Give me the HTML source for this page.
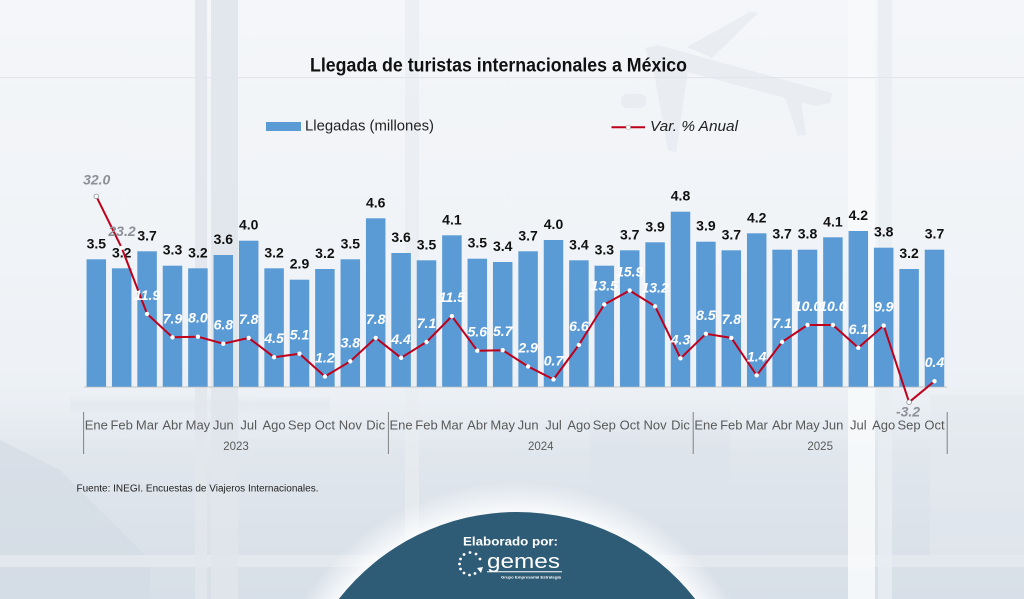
<!DOCTYPE html>
<html>
<head>
<meta charset="utf-8">
<style>
html,body{margin:0;padding:0;background:#f2f5f8;width:1024px;height:599px;overflow:hidden;}
svg{display:block;}
text{font-family:"Liberation Sans",Arial,sans-serif;}
</style>
</head>
<body>
<svg width="1024" height="599" viewBox="0 0 1024 599" xmlns="http://www.w3.org/2000/svg">
<defs>
<linearGradient id="bg" x1="0" y1="0" x2="0" y2="1">
<stop offset="0" stop-color="#f4f6f9"/>
<stop offset="0.6" stop-color="#eef2f6"/>
<stop offset="1" stop-color="#e1e7ee"/>
</linearGradient>
<linearGradient id="low" x1="0" y1="0" x2="0" y2="1">
<stop offset="0" stop-color="#dfe5ec" stop-opacity="0"/>
<stop offset="0.3" stop-color="#dce3ea" stop-opacity="0.7"/>
<stop offset="1" stop-color="#d6dee7" stop-opacity="0.9"/>
</linearGradient>
<linearGradient id="soft" x1="0" y1="0" x2="0" y2="1">
<stop offset="0" stop-color="#d8dfe7" stop-opacity="0"/>
<stop offset="0.5" stop-color="#d8dfe7" stop-opacity="0.6"/>
<stop offset="1" stop-color="#d8dfe7" stop-opacity="0"/>
</linearGradient>
<radialGradient id="halo" gradientUnits="userSpaceOnUse" cx="517" cy="738" r="256">
<stop offset="0.85" stop-color="#ffffff" stop-opacity="0.95"/>
<stop offset="0.9" stop-color="#ffffff" stop-opacity="0.7"/>
<stop offset="1" stop-color="#ffffff" stop-opacity="0"/>
</radialGradient>
</defs>
<!-- background -->
<rect x="0" y="0" width="1024" height="599" fill="url(#bg)"/>
<rect x="0" y="395" width="1024" height="204" fill="url(#low)"/>
<g opacity="0.6">
<polygon points="0,440 60,470 150,560 150,599 0,599" fill="#d3dbe4"/>
<rect x="0" y="555" width="1024" height="12" fill="#e9edf2"/>
<rect x="590" y="400" width="140" height="95" fill="url(#soft)"/>
<rect x="930" y="395" width="94" height="160" fill="#e4e9ef"/>
<rect x="70" y="395" width="260" height="20" fill="url(#soft)"/>
</g>
<rect x="195" y="0" width="12" height="599" fill="#e2e7ec" opacity="0.9"/>
<rect x="211" y="0" width="27" height="599" fill="#e0e5eb" opacity="0.9"/>
<rect x="405" y="0" width="14" height="599" fill="#e8ecf1" opacity="0.7"/>
<rect x="848" y="0" width="27" height="599" fill="#f7f9fb" opacity="0.9"/>
<rect x="878" y="0" width="14" height="599" fill="#e9edf2" opacity="0.8"/>
<rect x="0" y="77" width="1024" height="1.2" fill="#e3e7ec"/>

<!-- plane -->
<g fill="#e2e6ec" opacity="0.55">
<polygon points="645,48 658,45 832,93 830,103 815,106 650,62"/>
<polygon points="687,47 750,12 758,13 712,58"/>
<polygon points="652,62 688,70 676,152 668,150"/>
<polygon points="782,88 800,92 806,135 798,136"/>
<rect x="621" y="94" width="25" height="14" rx="6"/>
</g>

<!-- axis line -->
<line x1="84" y1="387" x2="947" y2="387" stroke="#c4c4c4" stroke-width="1"/>

<!-- bars -->
<g fill="#5b9bd5">
<rect x="86.55" y="259.3" width="19.5" height="127.4"/>
<rect x="111.95" y="268.3" width="19.5" height="118.4"/>
<rect x="137.35" y="251.3" width="19.5" height="135.4"/>
<rect x="162.75" y="265.7" width="19.5" height="121"/>
<rect x="188.15" y="268.3" width="19.5" height="118.4"/>
<rect x="213.55" y="255" width="19.5" height="131.7"/>
<rect x="238.95" y="240.7" width="19.5" height="146"/>
<rect x="264.35" y="268.3" width="19.5" height="118.4"/>
<rect x="289.75" y="279.7" width="19.5" height="107"/>
<rect x="315.15" y="269" width="19.5" height="117.7"/>
<rect x="340.55" y="259.3" width="19.5" height="127.4"/>
<rect x="365.95" y="218.3" width="19.5" height="168.4"/>
<rect x="391.35" y="253" width="19.5" height="133.7"/>
<rect x="416.75" y="260.3" width="19.5" height="126.4"/>
<rect x="442.15" y="235.3" width="19.5" height="151.4"/>
<rect x="467.55" y="258.7" width="19.5" height="128"/>
<rect x="492.95" y="262" width="19.5" height="124.7"/>
<rect x="518.35" y="251.3" width="19.5" height="135.4"/>
<rect x="543.75" y="240" width="19.5" height="146.7"/>
<rect x="569.15" y="260.3" width="19.5" height="126.4"/>
<rect x="594.55" y="265.7" width="19.5" height="121"/>
<rect x="619.95" y="250.3" width="19.5" height="136.4"/>
<rect x="645.35" y="242.3" width="19.5" height="144.4"/>
<rect x="670.75" y="211.7" width="19.5" height="175"/>
<rect x="696.15" y="241.7" width="19.5" height="145"/>
<rect x="721.55" y="250.3" width="19.5" height="136.4"/>
<rect x="746.95" y="233.3" width="19.5" height="153.4"/>
<rect x="772.35" y="249.7" width="19.5" height="137"/>
<rect x="797.75" y="249.7" width="19.5" height="137"/>
<rect x="823.15" y="237.3" width="19.5" height="149.4"/>
<rect x="848.55" y="231" width="19.5" height="155.7"/>
<rect x="873.95" y="247.7" width="19.5" height="139"/>
<rect x="899.35" y="269" width="19.5" height="117.7"/>
<rect x="924.75" y="249.7" width="19.5" height="137"/>
</g>

<!-- bar labels -->
<g font-size="14" font-weight="bold" fill="#111" text-anchor="middle">
<text x="96.3" y="248.3">3.5</text>
<text x="121.7" y="257.3">3.2</text>
<text x="147.1" y="240.3">3.7</text>
<text x="172.5" y="254.7">3.3</text>
<text x="197.9" y="257.3">3.2</text>
<text x="223.3" y="244">3.6</text>
<text x="248.7" y="229.7">4.0</text>
<text x="274.1" y="257.3">3.2</text>
<text x="299.5" y="268.7">2.9</text>
<text x="324.9" y="258">3.2</text>
<text x="350.3" y="248.3">3.5</text>
<text x="375.7" y="207.3">4.6</text>
<text x="401.1" y="242">3.6</text>
<text x="426.5" y="249.3">3.5</text>
<text x="451.9" y="224.3">4.1</text>
<text x="477.3" y="247.7">3.5</text>
<text x="502.7" y="251">3.4</text>
<text x="528.1" y="240.3">3.7</text>
<text x="553.5" y="229">4.0</text>
<text x="578.9" y="249.3">3.4</text>
<text x="604.3" y="254.7">3.3</text>
<text x="629.7" y="239.3">3.7</text>
<text x="655.1" y="231.3">3.9</text>
<text x="680.5" y="200.7">4.8</text>
<text x="705.9" y="230.7">3.9</text>
<text x="731.3" y="239.3">3.7</text>
<text x="756.7" y="222.3">4.2</text>
<text x="782.1" y="238.7">3.7</text>
<text x="807.5" y="238.7">3.8</text>
<text x="832.9" y="226.3">4.1</text>
<text x="858.3" y="220">4.2</text>
<text x="883.7" y="236.7">3.8</text>
<text x="909.1" y="258">3.2</text>
<text x="934.5" y="238.7">3.7</text>
</g>

<!-- line -->
<polyline fill="none" stroke="#c0001a" stroke-width="2" stroke-linejoin="round"
points="96.3,196.3 121.7,247.8 147.1,313.9 172.5,337.3 197.9,336.7 223.3,343.7 248.7,337.9 274.1,357.2 299.5,353.7 324.9,376.5 350.3,361.3 375.7,337.9 401.1,357.8 426.5,342 451.9,316.2 477.3,350.7 502.7,350.2 528.1,366.5 553.5,379.4 578.9,344.9 604.3,304.5 629.7,290.5 655.1,306.3 680.5,358.3 705.9,333.8 731.3,337.9 756.7,375.3 782.1,342 807.5,325 832.9,325 858.3,347.8 883.7,325.6 909.1,402.2 934.5,381.2"/>
<g fill="#ffffff">
<circle cx="121.7" cy="247.8" r="2.2"/>
<circle cx="147.1" cy="313.9" r="2.2"/>
<circle cx="172.5" cy="337.3" r="2.2"/>
<circle cx="197.9" cy="336.7" r="2.2"/>
<circle cx="223.3" cy="343.7" r="2.2"/>
<circle cx="248.7" cy="337.9" r="2.2"/>
<circle cx="274.1" cy="357.2" r="2.2"/>
<circle cx="299.5" cy="353.7" r="2.2"/>
<circle cx="324.9" cy="376.5" r="2.2"/>
<circle cx="350.3" cy="361.3" r="2.2"/>
<circle cx="375.7" cy="337.9" r="2.2"/>
<circle cx="401.1" cy="357.8" r="2.2"/>
<circle cx="426.5" cy="342" r="2.2"/>
<circle cx="451.9" cy="316.2" r="2.2"/>
<circle cx="477.3" cy="350.7" r="2.2"/>
<circle cx="502.7" cy="350.2" r="2.2"/>
<circle cx="528.1" cy="366.5" r="2.2"/>
<circle cx="553.5" cy="379.4" r="2.2"/>
<circle cx="578.9" cy="344.9" r="2.2"/>
<circle cx="604.3" cy="304.5" r="2.2"/>
<circle cx="629.7" cy="290.5" r="2.2"/>
<circle cx="655.1" cy="306.3" r="2.2"/>
<circle cx="680.5" cy="358.3" r="2.2"/>
<circle cx="705.9" cy="333.8" r="2.2"/>
<circle cx="731.3" cy="337.9" r="2.2"/>
<circle cx="756.7" cy="375.3" r="2.2"/>
<circle cx="782.1" cy="342" r="2.2"/>
<circle cx="807.5" cy="325" r="2.2"/>
<circle cx="832.9" cy="325" r="2.2"/>
<circle cx="858.3" cy="347.8" r="2.2"/>
<circle cx="883.7" cy="325.6" r="2.2"/>
<circle cx="934.5" cy="381.2" r="2.2"/>
</g>
<circle cx="96.3" cy="196.3" r="2.3" fill="#fff" stroke="#8a8e95" stroke-width="0.8"/>
<circle cx="909.1" cy="402.2" r="2.3" fill="#fff" stroke="#8a8e95" stroke-width="0.8"/>

<!-- line labels -->
<g font-size="14" font-weight="bold" font-style="italic" fill="#ffffff" text-anchor="middle">
<text x="147.1" y="299.9">11.9</text>
<text x="172.5" y="323.3">7.9</text>
<text x="197.9" y="322.7">8.0</text>
<text x="223.3" y="329.7">6.8</text>
<text x="248.7" y="323.9">7.8</text>
<text x="274.1" y="343.2">4.5</text>
<text x="299.5" y="339.7">5.1</text>
<text x="324.9" y="362.5">1.2</text>
<text x="350.3" y="347.3">3.8</text>
<text x="375.7" y="323.9">7.8</text>
<text x="401.1" y="343.8">4.4</text>
<text x="426.5" y="328">7.1</text>
<text x="451.9" y="302.2">11.5</text>
<text x="477.3" y="336.7">5.6</text>
<text x="502.7" y="336.2">5.7</text>
<text x="528.1" y="352.5">2.9</text>
<text x="553.5" y="365.4">0.7</text>
<text x="578.9" y="330.9">6.6</text>
<text x="604.3" y="290.5">13.5</text>
<text x="629.7" y="276.5">15.9</text>
<text x="655.1" y="292.3">13.2</text>
<text x="680.5" y="344.3">4.3</text>
<text x="705.9" y="319.8">8.5</text>
<text x="731.3" y="323.9">7.8</text>
<text x="756.7" y="361.3">1.4</text>
<text x="782.1" y="328">7.1</text>
<text x="807.5" y="311">10.0</text>
<text x="832.9" y="311">10.0</text>
<text x="858.3" y="333.8">6.1</text>
<text x="883.7" y="311.6">9.9</text>
<text x="934.5" y="367.2">0.4</text>
</g>
<g font-size="14" font-weight="bold" font-style="italic" fill="#8d9097" text-anchor="middle">
<text x="96.7" y="184.3">32.0</text>
<text x="122" y="236">23.2</text>
<text x="908" y="416.5">-3.2</text>
</g>

<!-- category labels -->
<g font-size="13" fill="#595959" text-anchor="middle">
<text x="96.3" y="429.5">Ene</text><text x="121.7" y="429.5">Feb</text><text x="147.1" y="429.5">Mar</text><text x="172.5" y="429.5">Abr</text><text x="197.9" y="429.5">May</text><text x="223.3" y="429.5">Jun</text><text x="248.7" y="429.5">Jul</text><text x="274.1" y="429.5">Ago</text><text x="299.5" y="429.5">Sep</text><text x="324.9" y="429.5">Oct</text><text x="350.3" y="429.5">Nov</text><text x="375.7" y="429.5">Dic</text>
<text x="401.1" y="429.5">Ene</text><text x="426.5" y="429.5">Feb</text><text x="451.9" y="429.5">Mar</text><text x="477.3" y="429.5">Abr</text><text x="502.7" y="429.5">May</text><text x="528.1" y="429.5">Jun</text><text x="553.5" y="429.5">Jul</text><text x="578.9" y="429.5">Ago</text><text x="604.3" y="429.5">Sep</text><text x="629.7" y="429.5">Oct</text><text x="655.1" y="429.5">Nov</text><text x="680.5" y="429.5">Dic</text>
<text x="705.9" y="429.5">Ene</text><text x="731.3" y="429.5">Feb</text><text x="756.7" y="429.5">Mar</text><text x="782.1" y="429.5">Abr</text><text x="807.5" y="429.5">May</text><text x="832.9" y="429.5">Jun</text><text x="858.3" y="429.5">Jul</text><text x="883.7" y="429.5">Ago</text><text x="909.1" y="429.5">Sep</text><text x="934.5" y="429.5">Oct</text>
</g>
<g font-size="11.5" fill="#595959" text-anchor="middle">
<text x="236" y="450">2023</text>
<text x="540.8" y="450">2024</text>
<text x="820.2" y="450">2025</text>
</g>
<g stroke="#808080" stroke-width="1">
<line x1="83.6" y1="412" x2="83.6" y2="454"/>
<line x1="388.4" y1="412" x2="388.4" y2="454"/>
<line x1="693.2" y1="412" x2="693.2" y2="454"/>
<line x1="947.2" y1="412" x2="947.2" y2="454"/>
</g>

<!-- title & legend -->
<text x="310" y="71.5" font-size="19" font-weight="bold" fill="#111" textLength="377" lengthAdjust="spacingAndGlyphs">Llegada de turistas internacionales a México</text>
<rect x="266" y="122" width="35" height="9" fill="#5b9bd5"/>
<text x="305" y="130.5" font-size="14.5" fill="#222" textLength="129" lengthAdjust="spacingAndGlyphs">Llegadas (millones)</text>
<line x1="611.5" y1="127.3" x2="645" y2="127.3" stroke="#c0001a" stroke-width="2"/>
<circle cx="628.3" cy="127.3" r="2.2" fill="#fff" stroke="#aaa" stroke-width="0.6"/>
<text x="650" y="131" font-size="14.5" font-style="italic" fill="#222" textLength="88" lengthAdjust="spacingAndGlyphs">Var. % Anual</text>

<!-- source -->
<text x="76.5" y="491.5" font-size="10" fill="#222" textLength="242" lengthAdjust="spacingAndGlyphs">Fuente: INEGI. Encuestas de Viajeros Internacionales.</text>

<!-- bottom badge -->
<rect x="260" y="480" width="514" height="119" fill="url(#halo)"/>
<path d="M338.8,599 A226,226 0 0 1 695.2,599 Z" fill="#2e5b75"/>
<text x="463" y="545.7" font-size="11.5" font-weight="bold" fill="#ffffff" textLength="95" lengthAdjust="spacingAndGlyphs">Elaborado por:</text>
<g fill="#ffffff">
<circle cx="470" cy="552.5" r="1.4"/>
<circle cx="476" cy="554" r="1.4"/>
<circle cx="464" cy="554.5" r="1.4"/>
<circle cx="460.5" cy="559" r="1.4"/>
<circle cx="459.5" cy="564" r="1.4"/>
<circle cx="460.5" cy="569" r="1.4"/>
<circle cx="464" cy="573" r="1.4"/>
<circle cx="469.5" cy="575" r="1.4"/>
<circle cx="475" cy="573.5" r="1.4"/>
<circle cx="480" cy="559" r="1.4"/>
<polygon points="477,568 483,567 481,573"/>
</g>
<text x="487" y="568" font-size="20" fill="#ffffff" textLength="73" lengthAdjust="spacingAndGlyphs">gemes</text>
<line x1="487" y1="571.8" x2="562" y2="571.8" stroke="#fff" stroke-width="1"/>
<text x="501" y="578.5" font-size="3.6" font-weight="bold" fill="#ffffff" textLength="60" lengthAdjust="spacingAndGlyphs">Grupo Empresarial Estrategia</text>
</svg>
</body>
</html>
